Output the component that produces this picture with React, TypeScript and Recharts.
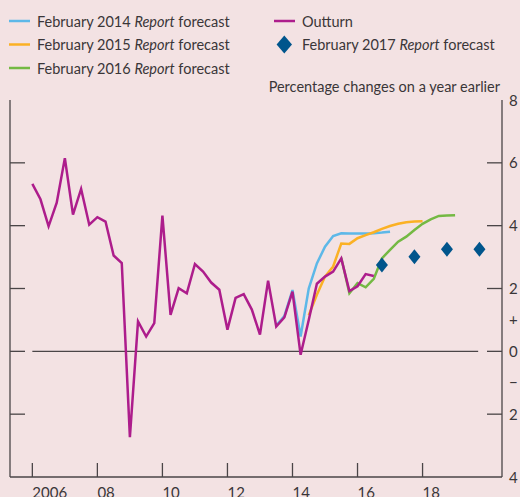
import { ComposedChart, Line, XAxis, YAxis, ReferenceLine } from 'recharts'

// quarterly, 2006 Q1 onwards
const START_YEAR = 2006

const OUTTURN = [
  5.33, 4.84, 3.98, 4.73, 6.15, 4.35, 5.17, 4.03, 4.27, 4.13, 3.05, 2.81,
  -2.73, 0.95, 0.47, 0.9, 4.32, 1.16, 2.01, 1.85, 2.78, 2.54, 2.19, 1.96,
  0.69, 1.7, 1.82, 1.33, 0.53, 2.25, 0.79, 1.08, 1.9, -0.11, 1.0, 2.15,
  2.38, 2.54, 2.96, 1.92, 2.07, 2.46, 2.4,
]
const FEB14_START = 30
const FEB14 = [0.82, 1.12, 1.95, 0.47, 2.0, 2.8, 3.33, 3.67, 3.76, 3.75, 3.75, 3.75, 3.76, 3.78, 3.81]
const FEB15_START = 34
const FEB15 = [1.15, 1.8, 2.38, 2.7, 3.43, 3.42, 3.6, 3.7, 3.79, 3.9, 3.99, 4.06, 4.11, 4.13, 4.14]
const FEB16_START = 38
const FEB16 = [2.98, 1.85, 2.17, 2.04, 2.31, 2.96, 3.23, 3.49, 3.65, 3.86, 4.06, 4.2, 4.31, 4.32, 4.33]
// Feb 2017 Report: Q4 of 2016-2019
const FEB17_QUARTERS = [43, 47, 51, 55]
const FEB17 = [2.75, 3.01, 3.25, 3.25]

const X_TICKS = [2006, 2008, 2010, 2012, 2014, 2016, 2018]
const X_LABELS = ['2006', '08', '10', '12', '14', '16', '18']
const Y_TICKS = [8, 6, 4, 2, 1, 0, -1, -2, -4]
const Y_TICK_LINES = [6, 4, 2, 0, -2]

const N = 56
const data = Array.from({ length: N }, (_, i) => {
  const pick = (arr: number[], start: number) => (i >= start && i < start + arr.length ? arr[i - start] : null)
  const k = FEB17_QUARTERS.indexOf(i)
  return {
    x: START_YEAR + i / 4,
    outturn: i < OUTTURN.length ? OUTTURN[i] : null,
    feb14: pick(FEB14, FEB14_START),
    feb15: pick(FEB15, FEB15_START),
    feb16: pick(FEB16, FEB16_START),
    feb17: k >= 0 ? FEB17[k] : null,
  }
})

const BG = '#F3E2E3'
const INK = '#4A4547'
const TXT = '#3A3638'
const FONT = 'Lato, "Open Sans", sans-serif'
const C = {
  feb14: '#5DB8E8',
  feb15: '#FBB124',
  feb16: '#74B943',
  outturn: '#AD1D8C',
  feb17: '#00558C',
}

const XTick = (p: any) => {
  const i = X_TICKS.indexOf(p.payload.value)
  return (
    <g>
      <line x1={p.x} x2={p.x} y1={p.y} y2={p.y - 14} stroke={INK} strokeWidth={1.3} />
      <text x={p.x} y={p.y + 21} textAnchor="start" fontSize={15} fill={TXT} fontFamily={FONT}>{X_LABELS[i]}</text>
    </g>
  )
}

const LeftTick = (p: any) =>
  Y_TICK_LINES.includes(p.payload.value)
    ? <line x1={p.x} x2={p.x + 15} y1={p.y} y2={p.y} stroke={INK} strokeWidth={1.3} />
    : <g />

const RightTick = (p: any) => {
  const v = p.payload.value
  const label = v === 1 ? '+' : v === -1 ? '\u2212' : String(Math.abs(v))
  return (
    <g>
      {Y_TICK_LINES.includes(v) && <line x1={p.x - 15} x2={p.x} y1={p.y} y2={p.y} stroke={INK} strokeWidth={1.3} />}
      <text x={p.x + 7} y={p.y + 5.5} textAnchor="start" fontSize={15} fill={TXT} fontFamily={FONT}>{label}</text>
    </g>
  )
}

const Diamond = (p: any) => {
  if (p.value == null || p.cy == null) return <g key={p.key ?? p.index} />
  const { cx, cy } = p
  return <polygon key={p.key ?? p.index} points={`${cx},${cy - 7.5} ${cx + 6},${cy} ${cx},${cy + 7.5} ${cx - 6},${cy}`} fill={C.feb17} />
}

const LEGEND = [
  { key: 'feb14', year: '2014', x: 9, y: 21 },
  { key: 'feb15', year: '2015', x: 9, y: 44.5 },
  { key: 'feb16', year: '2016', x: 9, y: 68 },
]

function Legend() {
  return (
    <svg width={520} height={100} style={{ position: 'absolute', left: 0, top: 0 }} fontFamily={FONT} fontSize={14.5} fill={TXT}>
      {LEGEND.map(l => (
        <g key={l.key}>
          <line x1={l.x} x2={l.x + 21} y1={l.y} y2={l.y} stroke={(C as any)[l.key]} strokeWidth={2.5} />
          <text x={l.x + 28} y={l.y + 5.5}>February {l.year} <tspan fontStyle="italic">Report</tspan> forecast</text>
        </g>
      ))}
      <line x1={274} x2={295} y1={21} y2={21} stroke={C.outturn} strokeWidth={2.5} />
      <text x={302} y={26.5}>Outturn</text>
      <polygon points="284.3,35.5 292,44.5 284.3,53.5 276.6,44.5" fill={C.feb17} />
      <text x={302} y={50}>February 2017 <tspan fontStyle="italic">Report</tspan> forecast</text>
      <text x={500} y={92} textAnchor="end">Percentage changes on a year earlier</text>
    </svg>
  )
}

export default function App() {
  const xDomain = [2005.313, 2020.443]
  return (
    <div style={{ position: 'absolute', left: 0, top: 0, width: 520, height: 497, background: BG, overflow: 'hidden' }}>
      <ComposedChart width={520} height={497} data={data} margin={{ top: 100, right: 0, bottom: 0, left: 0 }}>
        <XAxis xAxisId="b" type="number" dataKey="x" domain={xDomain} allowDataOverflow ticks={X_TICKS}
               height={20} tickSize={0} tickMargin={0} tickLine={false} axisLine={{ stroke: INK, strokeWidth: 1.3 }}
               tick={XTick} interval={0} />
        <XAxis xAxisId="t" orientation="top" type="number" dataKey="x" domain={xDomain} allowDataOverflow
               height={0} tick={false} tickLine={false} axisLine={{ stroke: INK, strokeWidth: 1.3 }} />
        <YAxis yAxisId="l" orientation="left" type="number" domain={[-4, 8]} allowDataOverflow ticks={Y_TICKS}
               width={10} tickSize={0} tickMargin={0} tickLine={false} axisLine={{ stroke: INK, strokeWidth: 1.3 }}
               tick={LeftTick} interval={0} />
        <YAxis yAxisId="r" orientation="right" type="number" domain={[-4, 8]} allowDataOverflow ticks={Y_TICKS}
               width={18} tickSize={0} tickMargin={0} tickLine={false} axisLine={{ stroke: INK, strokeWidth: 1.3 }}
               tick={RightTick} interval={0} />
        <ReferenceLine xAxisId="b" yAxisId="r" segment={[{ x: 2006, y: 0 }, { x: 2019.71, y: 0 }]}
                       stroke={INK} strokeWidth={1.3} ifOverflow="visible" />
        <Line xAxisId="b" yAxisId="r" dataKey="feb14" stroke={C.feb14} strokeWidth={2.5} dot={false} activeDot={false} isAnimationActive={false} />
        <Line xAxisId="b" yAxisId="r" dataKey="feb15" stroke={C.feb15} strokeWidth={2.5} dot={false} activeDot={false} isAnimationActive={false} />
        <Line xAxisId="b" yAxisId="r" dataKey="feb16" stroke={C.feb16} strokeWidth={2.5} dot={false} activeDot={false} isAnimationActive={false} />
        <Line xAxisId="b" yAxisId="r" dataKey="outturn" stroke={C.outturn} strokeWidth={2.5} dot={false} activeDot={false} isAnimationActive={false} />
        <Line xAxisId="b" yAxisId="r" dataKey="feb17" stroke="none" dot={Diamond} activeDot={false} isAnimationActive={false} />
      </ComposedChart>
      <Legend />
    </div>
  )
}
